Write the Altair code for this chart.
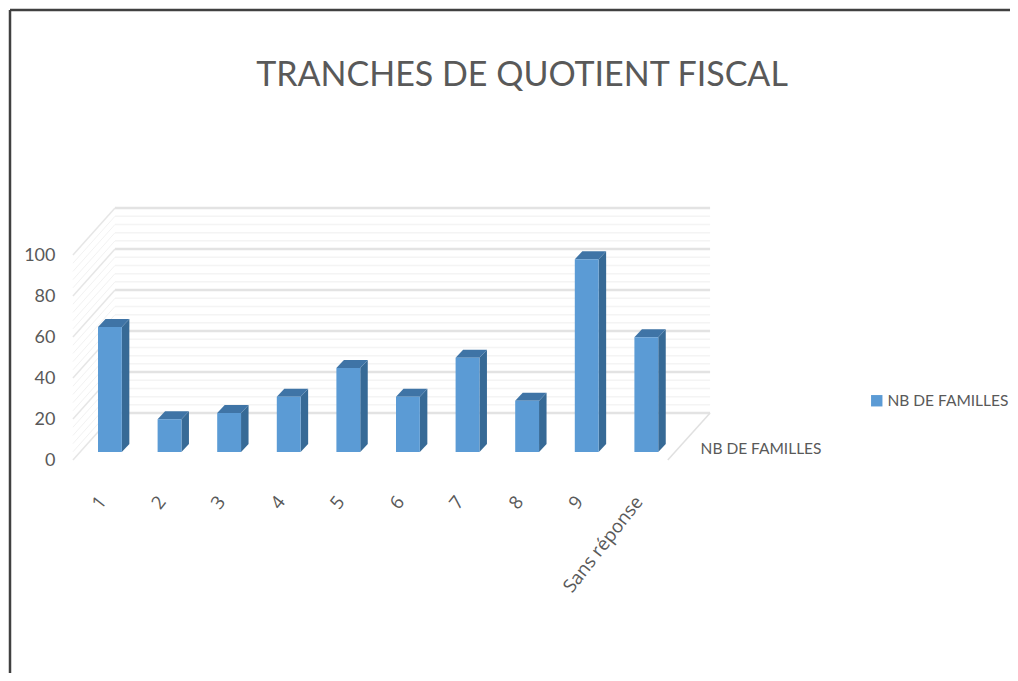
import altair as alt
import pandas as pd

categories = ["1", "2", "3", "4", "5", "6", "7", "8", "9", "Sans réponse"]
values = [61, 16, 19, 27, 41, 27, 46, 25, 94, 56]
series_name = "NB DE FAMILLES"
title_text = "TRANCHES DE QUOTIENT FISCAL"
major_ticks = [0, 20, 40, 60, 80, 100]
minor_ticks = [v for v in range(0, 101, 4) if v % 20]

W, H = 1002, 665
PX_X = 59.6
PX_Y = 2.05
X_ORIGIN = 90
Y_ORIGIN = 452
NARROW = "Lato"
GREY = "#595959"

xs = alt.Scale(domain=[-X_ORIGIN / PX_X, (W - X_ORIGIN) / PX_X], nice=False, zero=False)
ys = alt.Scale(domain=[-(H - Y_ORIGIN) / PX_Y, Y_ORIGIN / PX_Y], nice=False, zero=False)

WALL_FRONT_L, WALL_BACK_L, WALL_BACK_R, WALL_FRONT_R = -0.42, 0.285, 10.27, 9.56
WALL_DEPTH = 22.9
BAR_W, BAR_DX, BAR_DY, BAR_BASE = 0.40, 0.126, 3.9, 3.9

def X(f, **k):
    return alt.X(f, type="quantitative", scale=xs, axis=None, **k)

def Y(f, **k):
    return alt.Y(f, type="quantitative", scale=ys, axis=None, **k)

back = pd.DataFrame([{"x": WALL_BACK_L, "x2": WALL_BACK_R, "y": v + WALL_DEPTH} for v in major_ticks])
back_minor = pd.DataFrame([{"x": WALL_BACK_L, "x2": WALL_BACK_R, "y": v + WALL_DEPTH} for v in minor_ticks])
side = pd.DataFrame([{"x": WALL_FRONT_L, "x2": WALL_BACK_L, "y": v, "y2": v + WALL_DEPTH} for v in major_ticks])
side_minor = pd.DataFrame([{"x": WALL_FRONT_L, "x2": WALL_BACK_L, "y": v, "y2": v + WALL_DEPTH} for v in minor_ticks])
floor = pd.DataFrame([{"x": WALL_FRONT_R, "x2": WALL_BACK_R, "y": 0, "y2": WALL_DEPTH}])

def hrules(df, color, width):
    return alt.Chart(df).mark_rule(color=color, strokeWidth=width).encode(
        x=X("x"), x2="x2", y=Y("y"))

def drules(df, color, width):
    return alt.Chart(df).mark_rule(color=color, strokeWidth=width).encode(
        x=X("x"), x2="x2", y=Y("y"), y2="y2")

axis_layer = alt.Chart(pd.DataFrame({
    "v": major_ticks, "c": [i + BAR_W / 2 for i in range(len(major_ticks))]
})).mark_point(opacity=0).encode(
    x=alt.X("c:Q", scale=xs, axis=alt.Axis(
        values=[i + BAR_W / 2 for i in range(len(categories))], title=None, domain=False, ticks=False,
        grid=False, labelAngle=-52, labelAlign="right", labelBaseline="middle",
        labelFont="Open Sans", labelFontSize=18.5, labelColor=GREY, labelPadding=0, offset=-175,
        labelOffset=-8, labelOverlap=False, labelBound=False, labelFlush=False,
        labelExpr="[" + ",".join("'%s'" % c for c in categories) + "][round(datum.value - %s)]" % (BAR_W / 2),
    )),
    y=alt.Y("v:Q", scale=ys, axis=alt.Axis(
        values=major_ticks, title=None, domain=False, ticks=False, grid=False,
        labelFont=NARROW, labelFontSize=18, labelColor=GREY, labelPadding=0, offset=-47,
    )),
)

front = pd.DataFrame([{
    "x": i, "x2": i + BAR_W, "y": BAR_BASE, "y2": BAR_BASE + v, "s": series_name
} for i, v in enumerate(values)])
side_rows, top_rows = [], []
for i, v in enumerate(values):
    low, high = BAR_BASE + v, BAR_BASE + v + BAR_DY
    side_rows += [
        {"i": i, "x": i + BAR_W, "y": BAR_BASE, "y2": low},
        {"i": i, "x": i + BAR_W + BAR_DX, "y": BAR_BASE + BAR_DY, "y2": high},
    ]
    top_rows += [
        {"i": i, "x": i, "y": low, "y2": low},
        {"i": i, "x": i + BAR_DX, "y": low, "y2": high},
        {"i": i, "x": i + BAR_W, "y": low, "y2": high},
        {"i": i, "x": i + BAR_W + BAR_DX, "y": high, "y2": high},
    ]

front_layer = alt.Chart(front).mark_rect().encode(
    x=X("x"), x2="x2", y=Y("y"), y2="y2",
    color=alt.Color("s:N", scale=alt.Scale(domain=[series_name], range=["#5B9BD5"]), legend=alt.Legend(
        title=None, orient="none", legendX=861, legendY=385, symbolType="square", symbolSize=130,
        labelFont=NARROW, labelFontSize=15.5, labelColor=GREY, labelOffset=3,
    )),
)
side_layer = alt.Chart(pd.DataFrame(side_rows)).mark_area(orient="vertical", color="#376A96").encode(
    x=X("x"), y=Y("y"), y2="y2", detail="i:N")
top_layer = alt.Chart(pd.DataFrame(top_rows)).mark_area(orient="vertical", color="#3F74A6").encode(
    x=X("x"), y=Y("y"), y2="y2", detail="i:N")

wall_label = alt.Chart(pd.DataFrame({"t": [series_name], "x": [WALL_FRONT_R + 0.55], "y": [5.3]})).mark_text(
    font=NARROW, fontSize=15.5, color=GREY, align="left", baseline="middle"
).encode(x=X("x"), y=Y("y"), text="t:N")

frame_h = alt.Chart(pd.DataFrame({"a": [0]})).mark_rule(color="#404040", strokeWidth=2.5).encode(
    x=alt.value(2), x2=alt.value(W), y=alt.value(2))
frame_v = alt.Chart(pd.DataFrame({"a": [0]})).mark_rule(color="#404040", strokeWidth=2.5).encode(
    x=alt.value(2), y=alt.value(2), y2=alt.value(H))

chart = alt.layer(
    hrules(back_minor, "#f4f4f4", 1.5),
    drules(side_minor, "#f2f2f2", 1),
    hrules(back, "#e3e3e3", 2.5),
    drules(side, "#e6e6e6", 1.5),
    drules(floor, "#e0e0e0", 1.5),
    axis_layer,
    side_layer,
    top_layer,
    front_layer,
    wall_label,
    frame_h,
    frame_v,
).resolve_axis(x="independent", y="independent").properties(
    width=W, height=H, padding=0,
    autosize=alt.AutoSizeParams(type="none"),
    title=alt.TitleParams(
        title_text, anchor="middle", frame="group", font=NARROW, fontSize=34, fontWeight="normal",
        color=GREY, dx=13, dy=89,
    ),
).configure_view(stroke=None)

chart.save("out.html", embed_options={"renderer": "svg", "actions": False})
